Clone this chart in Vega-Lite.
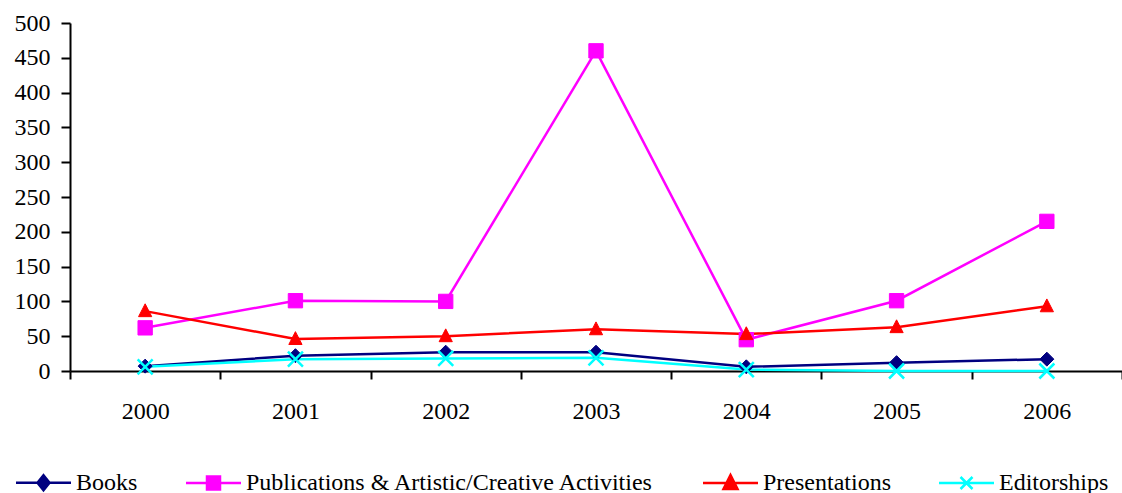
{
  "$schema": "https://vega.github.io/schema/vega-lite/v6.json",
  "width": 1052,
  "height": 348,
  "autosize": {"type": "none"},
  "padding": {"left": 70, "top": 23, "right": 0, "bottom": 122},
  "background": "white",
  "config": {
    "view": {"stroke": null},
    "font": "Liberation Serif",
    "style": {"guide-label": {"font": "Liberation Serif", "fontSize": 24, "fill": "black"}},
    "axis": {"labelFont": "Liberation Serif", "labelFontSize": 24, "labelColor": "black", "domainColor": "black", "tickColor": "black", "domainWidth": 2, "tickWidth": 2, "grid": false, "title": null},
    "legend": {"labelFont": "Liberation Serif"}
  },
  "data": {
    "values": [
      {"year": "2000", "series": "Books", "value": 7},
      {"year": "2001", "series": "Books", "value": 22},
      {"year": "2002", "series": "Books", "value": 27},
      {"year": "2003", "series": "Books", "value": 27},
      {"year": "2004", "series": "Books", "value": 6},
      {"year": "2005", "series": "Books", "value": 12},
      {"year": "2006", "series": "Books", "value": 17},
      {"year": "2000", "series": "Publications & Artistic/Creative Activities", "value": 62},
      {"year": "2001", "series": "Publications & Artistic/Creative Activities", "value": 101},
      {"year": "2002", "series": "Publications & Artistic/Creative Activities", "value": 100},
      {"year": "2003", "series": "Publications & Artistic/Creative Activities", "value": 460},
      {"year": "2004", "series": "Publications & Artistic/Creative Activities", "value": 45},
      {"year": "2005", "series": "Publications & Artistic/Creative Activities", "value": 101},
      {"year": "2006", "series": "Publications & Artistic/Creative Activities", "value": 215},
      {"year": "2000", "series": "Presentations", "value": 86},
      {"year": "2001", "series": "Presentations", "value": 46},
      {"year": "2002", "series": "Presentations", "value": 50},
      {"year": "2003", "series": "Presentations", "value": 60},
      {"year": "2004", "series": "Presentations", "value": 53},
      {"year": "2005", "series": "Presentations", "value": 63},
      {"year": "2006", "series": "Presentations", "value": 93},
      {"year": "2000", "series": "Editorships", "value": 6},
      {"year": "2001", "series": "Editorships", "value": 17},
      {"year": "2002", "series": "Editorships", "value": 18},
      {"year": "2003", "series": "Editorships", "value": 19},
      {"year": "2004", "series": "Editorships", "value": 2},
      {"year": "2005", "series": "Editorships", "value": 0},
      {"year": "2006", "series": "Editorships", "value": 0}
    ]
  },
  "encoding": {
    "x": {
      "field": "year", "type": "ordinal",
      "scale": {"type": "band", "paddingInner": 0, "paddingOuter": 0},
      "axis": {"labelAngle": 0, "tickBand": "extent", "tickSize": 8, "labelPadding": 20, "labelFont": "Liberation Serif", "labelFontSize": 24}
    },
    "y": {
      "field": "value", "type": "quantitative",
      "scale": {"domain": [0, 500], "nice": false},
      "axis": {"values": [0, 50, 100, 150, 200, 250, 300, 350, 400, 450, 500], "tickSize": 9, "labelPadding": 11, "labelFont": "Liberation Serif", "labelFontSize": 24}
    }
  },
  "resolve": {"legend": {"color": "independent", "stroke": "independent", "shape": "independent", "size": "independent"}},
  "layer": [
    {
      "mark": {"type": "line", "strokeWidth": 2.5},
      "encoding": {
        "color": {
          "field": "series", "type": "nominal",
          "scale": {"domain": ["Books", "Publications & Artistic/Creative Activities", "Presentations", "Editorships"], "range": ["#000080", "#FF00FF", "#FF0000", "#00FFFF"]},
          "legend": {
            "title": null, "orient": "none", "direction": "horizontal",
            "legendX": -56, "legendY": 447.5, "padding": 0, "offset": 0,
            "labelFont": "Liberation Serif", "labelFontSize": 24, "labelColor": "black", "labelLimit": 0,
            "labelOffset": 38, "columnPadding": 43, "symbolSize": 400,
            "encode": {
              "symbols": {
                "update": {
                  "shape": {"signal": "datum.value === 'Books' ? 'M-1,0L4.5,0M1.75,-0.75L2.35,0L1.75,0.75L1.15,0Z' : datum.value === 'Presentations' ? 'M-1,0L4.5,0M1.75,-0.8L2.45,0.6L1.05,0.6Z' : datum.value === 'Editorships' ? 'M-1,0L4.5,0M1.15,-0.6L2.35,0.6M1.15,0.6L2.35,-0.6' : 'M-1,0L4.5,0M1.1,-0.65L2.4,-0.65L2.4,0.65L1.1,0.65Z'"},
                  "size": {"value": 400},
                  "fill": {"scale": "color", "field": "value"},
                  "stroke": {"scale": "color", "field": "value"},
                  "strokeWidth": {"value": 2.5},
                  "opacity": {"value": 1}
                }
              }
            }
          }
        }
      }
    },
    {
      "mark": {"type": "point", "filled": true, "opacity": 1},
      "encoding": {
        "color": {"field": "series", "type": "nominal", "legend": null},
        "stroke": {
          "field": "series", "type": "nominal", "legend": null,
          "scale": {"domain": ["Books", "Publications & Artistic/Creative Activities", "Presentations", "Editorships"], "range": ["#000080", "#FF00FF", "#FF0000", "#00FFFF"]}
        },
        "shape": {
          "field": "series", "type": "nominal", "legend": null,
          "scale": {"domain": ["Books", "Publications & Artistic/Creative Activities", "Presentations", "Editorships"], "range": ["M0,-1L1,0L0,1L-1,0Z", "square", "M0,-1L0.9,0.75L-0.9,0.75Z", "M-1,-1L1,1M-1,1L1,-1"]}
        },
        "size": {
          "field": "series", "type": "nominal", "legend": null,
          "scale": {"domain": ["Books", "Publications & Artistic/Creative Activities", "Presentations", "Editorships"], "range": [196, 225, 289, 169]}
        },
        "strokeWidth": {"condition": {"test": "datum.series === 'Editorships'", "value": 2.5}, "value": 1}
      }
    }
  ]
}
